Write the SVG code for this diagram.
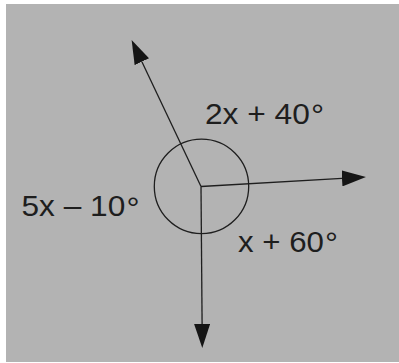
<svg xmlns="http://www.w3.org/2000/svg" width="399" height="363" viewBox="0 0 399 363">
  <style>
    .ray { stroke: #1e1e1e; stroke-width: 1.3; fill: none; marker-end: url(#head); }
    .lbl { font-family: "Liberation Sans", Arial, sans-serif; font-size: 29px; fill: #1e1e1e; }
    .deg { font-size: 30px; }
  </style>
  <defs>
    <marker id="head" markerUnits="userSpaceOnUse" viewBox="0 0 24 16" markerWidth="24" markerHeight="16" refX="0" refY="8" orient="auto">
      <path d="M0,0 L24,8 L0,16 Z" fill="#151515"/>
    </marker>
  </defs>
  <rect x="0" y="0" width="399" height="363" fill="#ffffff"/>
  <rect x="6" y="4" width="393" height="358" fill="#b3b3b3"/>
  <g id="circle">
    <circle cx="201.5" cy="186.4" r="47.2" fill="none" stroke="#1e1e1e" stroke-width="1.3"/>
  </g>
  <g id="connectors">
    <line class="ray" x1="201" y1="186.5" x2="141.9" y2="61.7"/>
    <line class="ray" x1="201" y1="186.5" x2="342" y2="178.4"/>
    <line class="ray" x1="201" y1="186.5" x2="202.1" y2="324"/>
  </g>
  <g id="label-top">
    <text class="lbl" x="205" y="123.5" textLength="119" lengthAdjust="spacingAndGlyphs">2x + 40<tspan class="deg" dx="1" dy="1.5">°</tspan></text>
  </g>
  <g id="label-left">
    <text class="lbl" x="21.5" y="216" textLength="118" lengthAdjust="spacingAndGlyphs">5x – 10<tspan class="deg" dx="1" dy="1.5">°</tspan></text>
  </g>
  <g id="label-right">
    <text class="lbl" x="238" y="251.7" textLength="100" lengthAdjust="spacingAndGlyphs">x + 60<tspan class="deg" dx="1" dy="1.5">°</tspan></text>
  </g>
</svg>
